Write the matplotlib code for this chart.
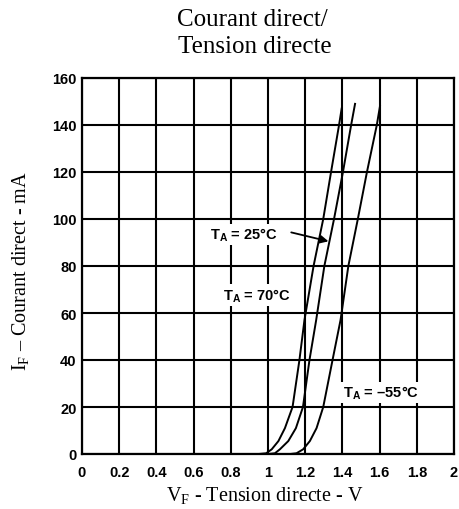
import matplotlib
matplotlib.use("Agg")
import matplotlib.pyplot as plt

# ---- data ----
x_ticks = [0, 0.2, 0.4, 0.6, 0.8, 1.0, 1.2, 1.4, 1.6, 1.8, 2.0]
x_tick_labels = ["0", "0.2", "0.4", "0.6", "0.8", "1", "1.2", "1.4", "1.6", "1.8", "2"]
y_ticks = [0, 20, 40, 60, 80, 100, 120, 140, 160]

i_70 = [0, 0.3, 2, 5.5, 11, 20, 40, 57, 80, 100, 120, 140, 147]
v_70 = [0.95, 0.99, 1.02, 1.056, 1.091, 1.132, 1.169, 1.196, 1.245, 1.297, 1.339, 1.382, 1.396]

i_25 = [0, 0.3, 2, 5.5, 11, 20, 40, 57, 80, 100, 120, 140, 149]
v_25 = [1.0, 1.037, 1.064, 1.109, 1.15, 1.188, 1.223, 1.259, 1.303, 1.355, 1.403, 1.447, 1.468]

i_m55 = [0, 0.3, 2, 5.5, 11, 20, 40, 57, 80, 100, 120, 140, 148]
v_m55 = [1.12, 1.153, 1.189, 1.225, 1.261, 1.297, 1.347, 1.39, 1.432, 1.483, 1.532, 1.585, 1.602]

plt.rcParams['mathtext.fontset'] = 'custom'
plt.rcParams['mathtext.rm'] = 'Liberation Serif'
plt.rcParams['mathtext.bf'] = 'Liberation Sans:bold'

fig = plt.figure(figsize=(4.59, 5.10), dpi=100)
ax = fig.add_axes([82 / 459, 1 - 455 / 510, (454 - 82) / 459, (455 - 79) / 510])

for v, i in [(v_70, i_70), (v_25, i_25), (v_m55, i_m55)]:
    ax.plot(v, i, color='black', lw=1.4, zorder=2, solid_joinstyle='round')

ax.set_xlim(0, 2)
ax.set_ylim(0, 160)
ax.set_xticks(x_ticks)
ax.set_xticklabels(x_tick_labels)
ax.set_yticks(y_ticks)
ax.set_axisbelow(True)
ax.grid(True, color='black', lw=1.5)
for s in ax.spines.values():
    s.set_linewidth(1.6)
ax.tick_params(axis='both', length=0, labelsize=10.5)
ax.tick_params(axis='x', pad=8)
ax.tick_params(axis='y', pad=4)
for lab in ax.get_xticklabels() + ax.get_yticklabels():
    lab.set_fontfamily('Liberation Sans')
    lab.set_fontweight('bold')

box = dict(facecolor='white', edgecolor='none', pad=1.5)
lab_kw = dict(fontsize=10.5, fontweight='bold', family='Liberation Sans',
              ha='center', va='center', bbox=box, zorder=4)
ax.text(0.868, 93.4, r'T$_\mathbf{A}$ = 25°C', **lab_kw)
ax.text(0.938, 67.7, r'T$_\mathbf{A}$ = 70°C', **lab_kw)
ax.text(1.605, 26.2, r'T$_\mathbf{A}$ = –55°C', **lab_kw)
ax.annotate('', xy=(1.325, 90.5), xytext=(1.125, 94.3),
            arrowprops=dict(arrowstyle='-|>', lw=1.3, color='black',
                            mutation_scale=12, shrinkA=0, shrinkB=0), zorder=5)

fig.text(252 / 459, 1 - 26 / 510, 'Courant direct/', family='Liberation Serif',
         fontsize=18, ha='center', va='baseline')
fig.text(255 / 459, 1 - 53 / 510, 'Tension directe', family='Liberation Serif',
         fontsize=18, ha='center', va='baseline')
fig.text(265 / 459, 1 - 502 / 510, r'V$_\mathrm{F}$ - Tension directe - V',
         family='Liberation Serif', fontsize=14.5, ha='center', va='baseline')
fig.text(21 / 459, 1 - 271.5 / 510, r'I$_\mathrm{F}$ – Courant direct - mA',
         family='Liberation Serif', fontsize=14.5, ha='center', va='center',
         rotation=90)

fig.savefig('out.png', dpi=100)
